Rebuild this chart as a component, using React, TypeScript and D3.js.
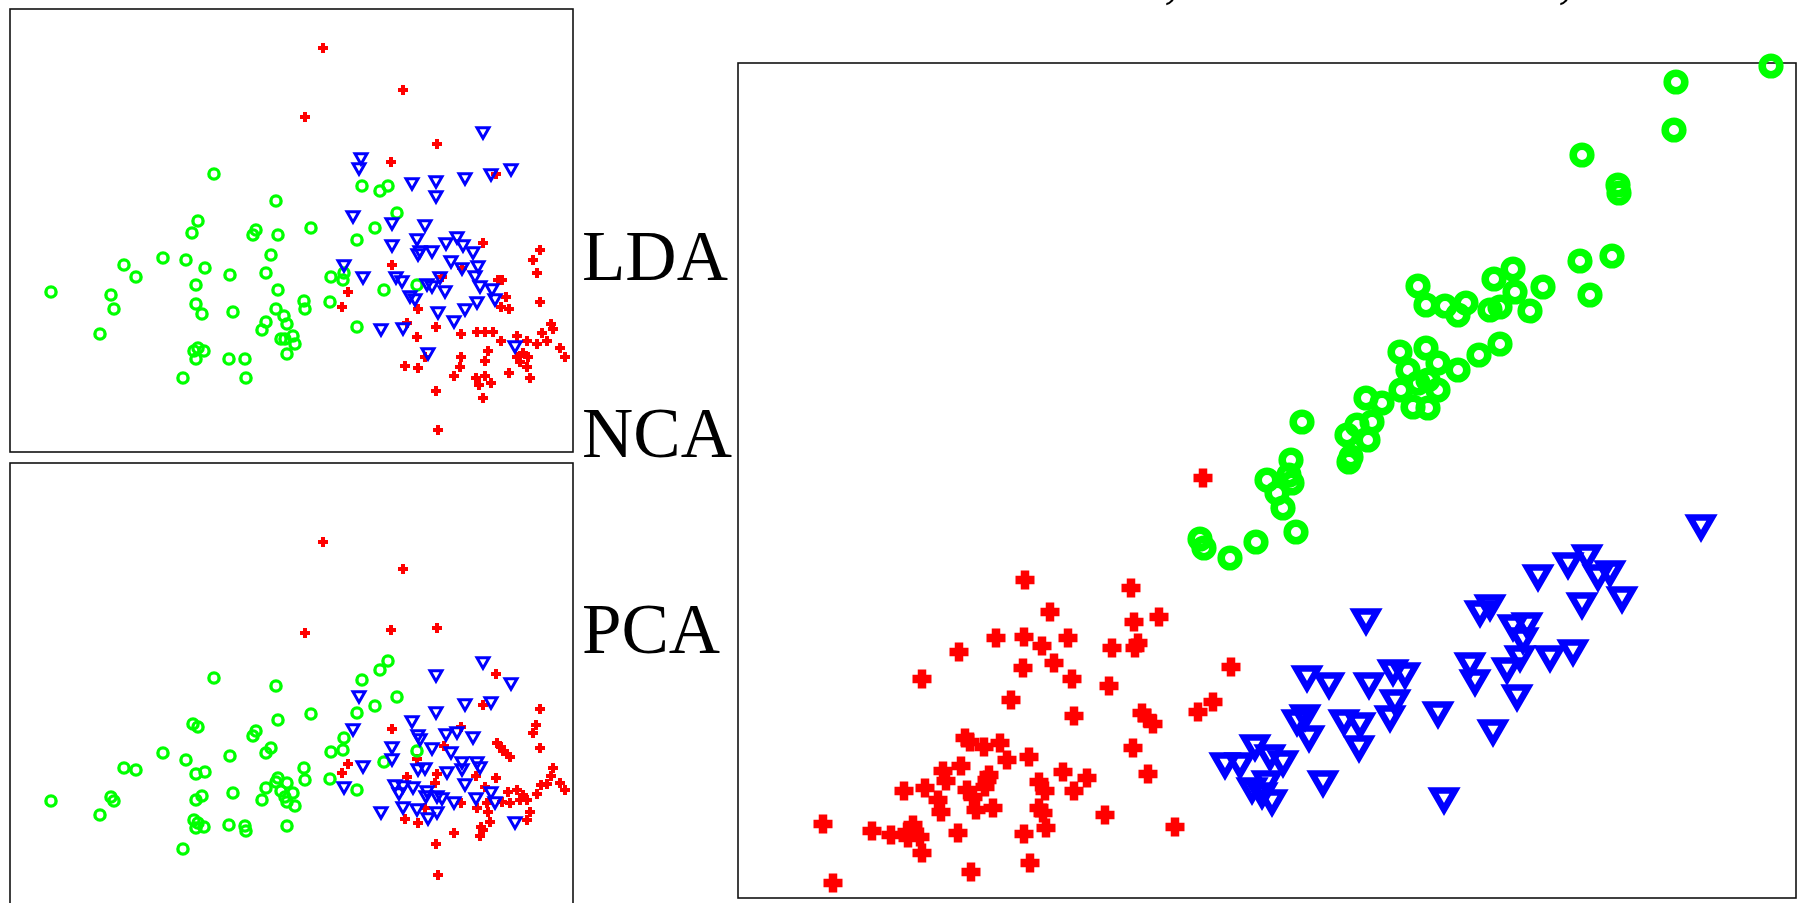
import React from "react";
import * as d3 from "d3";

type Pt = [number, number];

// projections of the three classes, in projection units (x right, y up)
// LDA (top left)
const ldaPlus: Pt[] = [
  [313, 404], [393, 362], [295, 335], [427, 308], [381, 290], [486, 278], [473, 209], [530, 202],
  [523, 192], [527, 179], [382, 187], [488, 172], [492, 172], [452, 184], [432, 175], [338, 160],
  [332, 145], [530, 150], [496, 155], [491, 145], [499, 143], [408, 143], [397, 129], [426, 125],
  [407, 115], [451, 118], [467, 120], [475, 120], [483, 120], [507, 116], [517, 111], [491, 111],
  [541, 128], [543, 123], [532, 119], [527, 108], [537, 111], [550, 104], [555, 95], [478, 101],
  [451, 95], [475, 91], [450, 85], [395, 86], [408, 84], [415, 95], [444, 76], [466, 74],
  [469, 67], [475, 76], [481, 69], [473, 54], [499, 79], [520, 74], [507, 95], [513, 99],
  [518, 95], [510, 90], [517, 85], [426, 61], [428, 22],
];
const ldaRing: Pt[] = [
  [41, 160], [101, 157], [104, 143], [90, 118], [114, 187], [126, 175], [153, 194], [176, 192],
  [195, 184], [186, 167], [186, 148], [192, 138], [188, 231], [182, 219], [204, 278], [220, 177],
  [223, 140], [184, 101], [188, 104], [194, 101], [186, 93], [173, 74], [219, 93], [235, 93],
  [236, 74], [266, 251], [246, 222], [243, 217], [268, 217], [261, 197], [256, 179], [268, 162],
  [266, 143], [274, 136], [277, 128], [256, 130], [252, 122], [271, 113], [275, 113], [283, 116],
  [285, 108], [277, 98], [301, 224], [294, 151], [295, 143], [320, 150], [352, 266], [370, 261],
  [378, 266], [387, 239], [365, 224], [347, 212], [321, 175], [333, 172], [334, 179], [374, 162],
  [407, 167], [347, 125],
];
const ldaTri: Pt[] = [
  [473, 319], [351, 293], [349, 283], [402, 268], [426, 270], [426, 255], [455, 273], [481, 277],
  [501, 282], [343, 235], [382, 228], [415, 226], [382, 206], [407, 212], [408, 197], [410, 200],
  [422, 200], [436, 208], [447, 214], [453, 206], [463, 199], [441, 190], [468, 185], [452, 183],
  [334, 186], [353, 174], [386, 174], [392, 170], [430, 174], [465, 175], [470, 165], [482, 162],
  [417, 167], [422, 165], [435, 160], [400, 155], [405, 152], [485, 152], [467, 149], [455, 142],
  [428, 139], [444, 130], [371, 122], [393, 123], [505, 105], [418, 98],
];

// PCA (bottom left)
const pcaPlus: Pt[] = [
  [313, 364], [393, 337], [295, 273], [381, 276], [427, 278], [486, 232], [473, 201], [530, 197],
  [526, 181], [523, 173], [382, 177], [451, 179], [487, 163], [491, 159], [493, 155], [497, 152],
  [500, 149], [434, 160], [530, 158], [338, 142], [332, 133], [407, 147], [397, 129], [427, 132],
  [425, 123], [466, 130], [486, 128], [543, 138], [541, 130], [531, 121], [537, 122], [527, 112],
  [550, 123], [555, 116], [498, 114], [507, 116], [513, 111], [510, 106], [517, 106], [500, 103],
  [492, 104], [520, 94], [517, 86], [475, 119], [477, 103], [467, 98], [478, 94], [451, 103],
  [415, 98], [408, 83], [395, 87], [444, 73], [471, 79], [470, 70], [473, 76], [480, 84],
  [426, 62], [428, 31],
];
const pcaRing: Pt[] = [
  [41, 105], [101, 109], [104, 105], [90, 91], [114, 138], [126, 136], [153, 153], [176, 146],
  [195, 134], [186, 132], [183, 182], [188, 179], [204, 228], [220, 150], [223, 113], [186, 106],
  [192, 110], [184, 86], [188, 83], [194, 79], [186, 78], [173, 57], [219, 81], [235, 80],
  [236, 75], [266, 220], [268, 186], [246, 175], [243, 170], [261, 158], [256, 153], [256, 118],
  [252, 106], [268, 128], [266, 124], [277, 123], [271, 115], [275, 109], [283, 113], [277, 104],
  [285, 100], [277, 80], [301, 192], [294, 138], [295, 126], [320, 127], [378, 245], [370, 236],
  [352, 226], [387, 209], [365, 200], [347, 193], [334, 168], [333, 156], [321, 154], [374, 144],
  [407, 155], [347, 116],
];
const pcaTri: Pt[] = [
  [473, 243], [426, 230], [501, 222], [349, 209], [455, 201], [481, 203], [426, 193], [343, 176],
  [402, 184], [408, 170], [410, 166], [436, 171], [447, 173], [463, 168], [382, 158], [422, 157],
  [441, 153], [382, 146], [353, 139], [452, 143], [452, 136], [467, 143], [470, 138], [408, 136],
  [415, 137], [437, 133], [455, 121], [334, 118], [385, 120], [393, 119], [403, 118], [389, 112],
  [417, 114], [427, 109], [432, 107], [416, 109], [444, 103], [466, 107], [481, 113], [485, 103],
  [371, 93], [393, 98], [407, 96], [427, 93], [418, 87], [505, 83],
];

// NCA (right)
const ncaPlus: Pt[] = [
  [287, 318], [393, 310], [312, 286], [396, 276], [421, 281], [258, 260], [286, 261], [304, 252],
  [330, 260], [374, 250], [397, 250], [400, 255], [221, 246], [285, 230], [316, 235], [334, 219],
  [184, 219], [371, 212], [493, 231], [273, 198], [336, 182], [404, 185], [415, 174], [409, 180],
  [475, 196], [460, 186], [227, 160], [232, 156], [246, 151], [262, 155], [291, 141], [269, 138],
  [395, 150], [223, 132], [205, 127], [208, 117], [251, 123], [325, 126], [349, 120], [410, 124],
  [166, 107], [187, 110], [229, 108], [235, 101], [247, 111], [249, 118], [301, 116], [307, 107],
  [336, 107], [200, 98], [203, 86], [238, 88], [255, 90], [301, 90], [305, 85], [367, 83],
  [85, 74], [134, 67], [153, 63], [169, 66], [175, 73], [182, 61], [170, 60], [184, 45],
  [220, 65], [286, 64], [308, 70], [437, 71], [233, 26], [292, 35], [95, 15], [465, 420],
];
const ncaRing: Pt[] = [
  [1033, 832], [938, 816], [936, 768], [844, 743], [880, 713], [881, 705], [842, 637], [874, 642],
  [852, 603], [680, 612], [756, 619], [775, 629], [805, 611], [777, 606], [688, 593], [707, 592],
  [728, 595], [720, 583], [752, 588], [762, 591], [792, 587], [662, 546], [688, 550], [670, 528],
  [700, 535], [720, 528], [741, 543], [762, 554], [663, 508], [680, 515], [690, 518], [700, 508],
  [675, 491], [690, 490], [628, 500], [644, 495], [634, 476], [609, 463], [619, 473], [630, 458],
  [611, 436], [613, 441], [564, 476], [553, 438], [551, 423], [554, 415], [529, 418], [539, 405],
  [545, 390], [462, 359], [466, 350], [492, 340], [518, 356], [558, 366],
];
const ncaTri: Pt[] = [
  [628, 277], [569, 220], [591, 213], [631, 213], [655, 226], [667, 223], [657, 196], [652, 180],
  [567, 181], [559, 176], [571, 160], [606, 176], [622, 173], [621, 150], [700, 184], [755, 166],
  [585, 115], [706, 98], [517, 151], [532, 141], [545, 135], [487, 133], [502, 133], [514, 108],
  [524, 103], [534, 96], [529, 115], [732, 233], [737, 216], [769, 228], [782, 240], [812, 240],
  [835, 246], [779, 201], [742, 285], [752, 291], [775, 271], [789, 273], [785, 258], [800, 321],
  [830, 333], [849, 341], [860, 321], [872, 325], [844, 293], [884, 299], [963, 371],
];

const smallDomain = { x: [0, 563], y: [0, 443] };
const ncaDomain = { x: [0, 1058], y: [0, 835] };
const methodLabels = ["LDA", "NCA", "PCA"];

const RED = "#ff0000";
const GREEN = "#00ff00";
const BLUE = "#0000ff";

function plusPath(s: number, t: number) {
  const a = s / 2, b = t / 2;
  return `M${-b},${-a}H${b}V${-b}H${a}V${b}H${b}V${a}H${-b}V${b}H${-a}V${-b}H${-b}Z`;
}
function triPath(w: number, h: number) {
  return `M${-w / 2},${-h / 2}H${w / 2}L0,${h / 2}Z`;
}

type Box = { x: number; y: number; w: number; h: number };
type Marks = { plus: number; arm: number; r: number; ringW: number; tw: number; th: number; triW: number };

function Panel(props: {
  box: Box; domain: { x: number[]; y: number[] }; plus: Pt[]; ring: Pt[]; tri: Pt[]; m: Marks;
}) {
  const { box, domain, m } = props;
  const x = d3.scaleLinear().domain(domain.x).range([box.x, box.x + box.w]);
  const y = d3.scaleLinear().domain(domain.y).range([box.y + box.h, box.y]);
  const pp = plusPath(m.plus, m.arm);
  const tp = triPath(m.tw, m.th);
  return (
    <g>
      <rect x={box.x} y={box.y} width={box.w} height={box.h} fill="white" stroke="#111" strokeWidth={1.6} />
      {props.plus.map((d, i) => (
        <path key={"p" + i} d={pp} transform={`translate(${x(d[0])},${y(d[1])})`} fill={RED} />
      ))}
      {props.ring.map((d, i) => (
        <circle key={"c" + i} cx={x(d[0])} cy={y(d[1])} r={m.r} fill="none" stroke={GREEN} strokeWidth={m.ringW} />
      ))}
      {props.tri.map((d, i) => (
        <path key={"t" + i} d={tp} transform={`translate(${x(d[0])},${y(d[1])})`} fill="none"
          stroke={BLUE} strokeWidth={m.triW} strokeLinejoin="miter" />
      ))}
    </g>
  );
}

export default function App() {
  const small: Marks = { plus: 10, arm: 4, r: 5.1, ringW: 3.4, tw: 12, th: 10.5, triW: 3 };
  const big: Marks = { plus: 19, arm: 8.5, r: 8.8, ringW: 7.6, tw: 22, th: 19, triW: 6.5 };
  const labelY = [280, 457, 653];
  return (
    <svg width={1798} height={903} style={{ position: "absolute", left: 0, top: 0, background: "white" }}
      fontFamily="'Liberation Serif', 'Times New Roman', serif">
      <Panel box={{ x: 10, y: 9, w: 563, h: 443 }} domain={smallDomain} plus={ldaPlus} ring={ldaRing} tri={ldaTri} m={small} />
      <Panel box={{ x: 10, y: 463, w: 563, h: 443 }} domain={smallDomain} plus={pcaPlus} ring={pcaRing} tri={pcaTri} m={small} />
      <Panel box={{ x: 738, y: 63, w: 1058, h: 835 }} domain={ncaDomain} plus={ncaPlus} ring={ncaRing} tri={ncaTri} m={big} />
      {methodLabels.map((t, i) => (
        <text key={t} x={582} y={labelY[i]} fontSize={71} fill="black">{t}</text>
      ))}
      {/* tails of the caption line above, cut off by the crop */}
      <text x={1164} y={-4} fontSize={60} fill="black">,</text>
      <text x={1558} y={-4} fontSize={60} fill="black">,</text>
    </svg>
  );
}
